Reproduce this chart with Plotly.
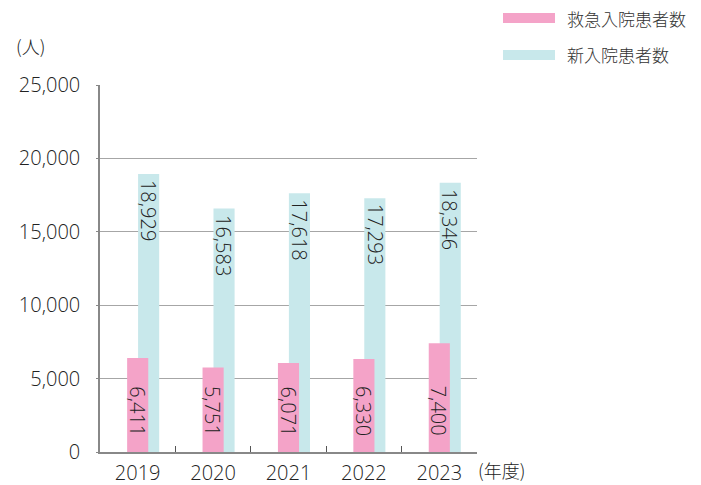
import plotly.graph_objects as go

years = ["2019", "2020", "2021", "2022", "2023"]
emergency = [6411, 5751, 6071, 6330, 7400]
new_adm = [18929, 16583, 17618, 17293, 18346]
y_ticks = [0, 5000, 10000, 15000, 20000, 25000]
y_ticklabels = ["0", "5,000", "10,000", "15,000", "20,000", "25,000"]
name_em = "救急入院患者数"
name_new = "新入院患者数"

PINK = "#F4A3C8"
CYAN = "#C8E8EB"
FONT = "Open Sans, Noto Sans CJK JP"
CJK = "Noto Sans CJK JP"
TXT = "#222222"
W = 300

fig = go.Figure()
fig.add_trace(go.Bar(
    x=years, y=new_adm, name=name_new, marker=dict(color=CYAN, line=dict(width=0)),
    offset=0.005, width=0.28, showlegend=False, hoverinfo="skip",
))
fig.add_trace(go.Bar(
    x=years, y=emergency, name=name_em, marker=dict(color=PINK, line=dict(width=0)),
    offset=-0.14, width=0.28, showlegend=False, hoverinfo="skip",
))

for i, v in enumerate(new_adm):
    fig.add_annotation(x=i, y=v, text=f"{v:,}", showarrow=False, textangle=90,
                       xanchor="center", yanchor="top", xshift=11, yshift=-4,
                       font=dict(family=FONT, size=20, color=TXT, weight=W))
for i, v in enumerate(emergency):
    fig.add_annotation(x=i, y=0, text=f"{v:,}", showarrow=False, textangle=90,
                       xanchor="center", yanchor="bottom", xshift=0, yshift=14,
                       font=dict(family=FONT, size=20, color=TXT, weight=W))

fig.update_layout(
    width=701, height=485, barmode="overlay",
    margin=dict(l=100, r=224, t=85, b=33),
    plot_bgcolor="white", paper_bgcolor="white",
    font=dict(family=FONT, size=20, color=TXT, weight=W),
    xaxis=dict(type="category", range=[-0.5, 4.5], showline=True, linecolor="#888888",
               linewidth=1.5, ticks="inside", tickson="boundaries", ticklen=6,
               tickcolor="#555555", showgrid=False, ticklabelstandoff=2, automargin=False,
               tickfont=dict(family=FONT, size=20, color=TXT, weight=W)),
    yaxis=dict(range=[0, 25000], tickvals=y_ticks, ticktext=y_ticklabels,
               showline=True, linecolor="#888888", linewidth=1.5,
               showgrid=True, gridcolor="#a6a6a6", gridwidth=1,
               ticks="outside", ticklen=2, tickcolor="#888888", automargin=False,
               ticklabelstandoff=12, zeroline=False,
               tickfont=dict(family=FONT, size=20, color=TXT, weight=W)),
)

# legend (custom, wide swatches)
legend_items = [(name_em, PINK), (name_new, CYAN)]
for i, (nm, col) in enumerate(legend_items):
    y0 = 1.0 + (85 - 13 - i * 37) / 367.0
    y1 = 1.0 + (85 - 23 - i * 37) / 367.0
    fig.add_shape(type="rect", xref="paper", yref="paper",
                  x0=(503 - 100) / 377.0, x1=(555 - 100) / 377.0, y0=y1, y1=y0,
                  fillcolor=col, line=dict(width=0))
    fig.add_annotation(xref="paper", yref="paper", x=(565 - 100) / 377.0,
                       y=(y0 + y1) / 2, text=nm, showarrow=False, xanchor="left",
                       yanchor="middle", font=dict(family=CJK, size=17, color="#333333", weight=W))

fig.add_annotation(xref="paper", yref="paper", x=(14 - 100) / 377.0, y=1.0 + (85 - 46) / 367.0,
                   text="(人)", showarrow=False, xanchor="left", yanchor="middle",
                   font=dict(family=CJK, size=18, color=TXT, weight=W))
fig.add_annotation(xref="paper", yref="paper", x=(476 - 100) / 377.0, y=-(470 - 452) / 367.0,
                   text="(年度)", showarrow=False, xanchor="left", yanchor="middle",
                   font=dict(family=CJK, size=18, color=TXT, weight=W))

fig.write_html("out.html")
